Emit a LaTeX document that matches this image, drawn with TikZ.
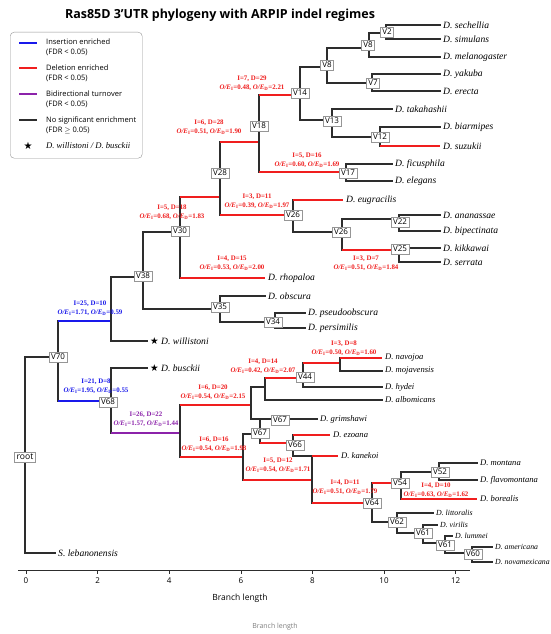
\documentclass[tikz,border=0pt]{standalone}
\usepackage{fontspec}
\setmainfont{Liberation Serif}
\setsansfont{Open Sans}
\newfontfamily\starfont{DejaVu Sans}
\usetikzlibrary{positioning}
\definecolor{insblue}{RGB}{25,25,235}
\definecolor{delred}{RGB}{240,30,30}
\definecolor{bipurple}{RGB}{140,35,170}
\definecolor{branchgray}{RGB}{45,45,45}
\definecolor{boxgray}{RGB}{150,150,150}
\tikzset{
  br/.style={line width=1.2pt,branchgray,line cap=rect},
  ins/.style={line width=1.5pt,insblue},
  del/.style={line width=1.5pt,delred},
  bid/.style={line width=1.5pt,bipurple},
  sp/.style={anchor=west,inner xsep=3pt,inner ysep=0pt,
             font=\itshape\fontsize{9.6}{10}\selectfont},
  spsmall/.style={sp,font=\itshape\fontsize{8.6}{9}\selectfont},
  sptiny/.style={sp,font=\itshape\fontsize{7.8}{8}\selectfont},
  vbox/.style={rectangle,draw=boxgray,fill=white,inner sep=2pt,
               font=\sffamily\fontsize{8}{9}\selectfont},
  ann/.style={align=center,inner sep=0pt,text=#1,
              font=\bfseries\fontsize{6.9}{9}\selectfont},
  leg/.style={anchor=west,align=left,inner sep=0pt,
              font=\sffamily\fontsize{7.5}{10}\selectfont},
  tick/.style={font=\sffamily\fontsize{8}{9}\selectfont,inner sep=0pt},
}
\newcommand{\ratI}[1]{\textit{O/E}\textsubscript{I}=#1}
\newcommand{\ratD}[1]{\textit{O/E}\textsubscript{D}=#1}

\begin{document}
\begin{tikzpicture}[x=1pt,y=-1pt]
\useasboundingbox (0,0) rectangle (550,634);
\fill[white] (0,0) rectangle (550,634);

\node[font=\sffamily\bfseries\fontsize{12.5}{14}\selectfont] (title) at (220,15)
  {Ras85D 3'UTR phylogeny with ARPIP indel regimes};

% internal nodes
\coordinate (rt) at (25,457);
\coordinate (v70) at (58,357);
\coordinate (n1) at (111,321);
\coordinate (v68) at (111,401);
\coordinate (v38) at (143,277);
\coordinate (v30) at (180,232);
\coordinate (v35) at (220,309);
\coordinate (v28) at (220,197);
\coordinate (v18) at (259,142);
\coordinate (v26a) at (293,215);
\coordinate (v14) at (300,95);
\coordinate (v17) at (346,172);
\coordinate (v8b) at (327,67);
\coordinate (v13) at (332,120);
\coordinate (v8a) at (369,48);
\coordinate (v7) at (372,83);
\coordinate (v2) at (386,33);
\coordinate (v12) at (380,137);
\coordinate (v26b) at (342,232);
\coordinate (v22) at (399,219);
\coordinate (v25) at (399,250);
\coordinate (v34) at (275,322);
\coordinate (n2) at (180,433);
\coordinate (n3) at (251,405);
\coordinate (n4) at (243,457);
\coordinate (n5) at (265,387);
\coordinate (v44) at (303,378);
\coordinate (n6) at (340,363);
\coordinate (v67) at (260,434);
\coordinate (v66) at (293,443);
\coordinate (n7) at (312,480);
\coordinate (v64) at (372,503);
\coordinate (v54) at (401,483);
\coordinate (v52) at (439,472);
\coordinate (v62) at (397,522);
\coordinate (v61a) at (423,533);
\coordinate (v61b) at (445,543);
\coordinate (v60) at (472,553);

% species
\node[sp] (sech) at (440,25) {D. sechellia};
\node[sp] (simu) at (440,39) {D. simulans};
\node[sp] (mela) at (440,57) {D. melanogaster};
\node[sp] (yaku) at (440,74) {D. yakuba};
\node[sp] (erec) at (440,91) {D. erecta};
\node[sp] (taka) at (392,109) {D. takahashii};
\node[sp] (biar) at (440,127) {D. biarmipes};
\node[sp] (suzu) at (440,146) {D. suzukii};
\node[sp] (ficu) at (392,164) {D. ficusphila};
\node[sp] (eleg) at (392,181) {D. elegans};
\node[sp] (eugr) at (343,200) {D. eugracilis};
\node[sp] (anan) at (440,215) {D. ananassae};
\node[sp] (bipe) at (440,231) {D. bipectinata};
\node[sp] (kikk) at (440,248) {D. kikkawai};
\node[sp] (serr) at (440,262) {D. serrata};
\node[sp] (rhop) at (265,278) {D. rhopaloa};
\node[sp] (obsc) at (265,296) {D. obscura};
\node[sp] (pseu) at (305,313) {D. pseudoobscura};
\node[sp] (pers) at (305,328) {D. persimilis};
\node[sp] (will) at (147,341) {{\starfont\upshape ★}~D. willistoni};
\node[sp] (busc) at (147,368) {{\starfont\upshape ★}~D. busckii};
\node[spsmall] (navo) at (382,358) {D. navojoa};
\node[spsmall] (moja) at (382,371) {D. mojavensis};
\node[spsmall] (hyde) at (382,387) {D. hydei};
\node[spsmall] (albo) at (382,400) {D. albomicans};
\node[spsmall] (grim) at (317,419) {D. grimshawi};
\node[spsmall] (ezoa) at (330,435) {D. ezoana};
\node[spsmall] (kane) at (338,456) {D. kanekoi};
\node[spsmall] (mont) at (477,463) {D. montana};
\node[spsmall] (flav) at (477,480) {D. flavomontana};
\node[spsmall] (bore) at (477,499) {D. borealis};
\node[sptiny] (litt) at (433,513) {D. littoralis};
\node[sptiny] (viri) at (437,525) {D. virilis};
\node[sptiny] (lumm) at (452,536) {D. lummei};
\node[sptiny] (amer) at (492,547) {D. americana};
\node[sptiny] (nova) at (492,562) {D. novamexicana};
\node[sp] (leba) at (55,553) {S. lebanonensis};

% branches
\draw[br] (rt |- v70) -- (rt |- leba);
\draw[br] (rt |- v70) -- (v70);
\draw[br] (rt |- leba) -- (leba);
\draw[br] (v70 |- n1) -- (v70 |- v68);
\draw[ins] (v70 |- n1) -- (n1);
\draw[ins] (v70 |- v68) -- (v68);
\draw[br] (n1 |- v38) -- (n1 |- will);
\draw[br] (n1 |- v38) -- (v38);
\draw[br] (n1 |- will) -- (will);
\draw[br] (v38 |- v30) -- (v38 |- v35);
\draw[br] (v38 |- v30) -- (v30);
\draw[br] (v38 |- v35) -- (v35);
\draw[br] (v30 |- v28) -- (v30 |- rhop);
\draw[del] (v30 |- v28) -- (v28);
\draw[del] (v30 |- rhop) -- (rhop);
\draw[br] (v28 |- v18) -- (v28 |- v26a);
\draw[del] (v28 |- v18) -- (v18);
\draw[del] (v28 |- v26a) -- (v26a);
\draw[br] (v18 |- v14) -- (v18 |- v17);
\draw[del] (v18 |- v14) -- (v14);
\draw[del] (v18 |- v17) -- (v17);
\draw[br] (v14 |- v8b) -- (v14 |- v13);
\draw[br] (v14 |- v8b) -- (v8b);
\draw[br] (v14 |- v13) -- (v13);
\draw[br] (v8b |- v8a) -- (v8b |- v7);
\draw[br] (v8b |- v8a) -- (v8a);
\draw[br] (v8b |- v7) -- (v7);
\draw[br] (v8a |- v2) -- (v8a |- mela);
\draw[br] (v8a |- v2) -- (v2);
\draw[br] (v8a |- mela) -- (mela);
\draw[br] (v2 |- sech) -- (v2 |- simu);
\draw[br] (v2 |- sech) -- (sech);
\draw[br] (v2 |- simu) -- (simu);
\draw[br] (v7 |- yaku) -- (v7 |- erec);
\draw[br] (v7 |- yaku) -- (yaku);
\draw[br] (v7 |- erec) -- (erec);
\draw[br] (v13 |- taka) -- (v13 |- v12);
\draw[br] (v13 |- taka) -- (taka);
\draw[br] (v13 |- v12) -- (v12);
\draw[br] (v12 |- biar) -- (v12 |- suzu);
\draw[br] (v12 |- biar) -- (biar);
\draw[del] (v12 |- suzu) -- (suzu);
\draw[br] (v17 |- ficu) -- (v17 |- eleg);
\draw[br] (v17 |- ficu) -- (ficu);
\draw[br] (v17 |- eleg) -- (eleg);
\draw[br] (v26a |- eugr) -- (v26a |- v26b);
\draw[del] (v26a |- eugr) -- (eugr);
\draw[br] (v26a |- v26b) -- (v26b);
\draw[br] (v26b |- v22) -- (v26b |- v25);
\draw[br] (v26b |- v22) -- (v22);
\draw[del] (v26b |- v25) -- (v25);
\draw[br] (v22 |- anan) -- (v22 |- bipe);
\draw[br] (v22 |- anan) -- (anan);
\draw[br] (v22 |- bipe) -- (bipe);
\draw[br] (v25 |- kikk) -- (v25 |- serr);
\draw[br] (v25 |- kikk) -- (kikk);
\draw[br] (v25 |- serr) -- (serr);
\draw[br] (v35 |- obsc) -- (v35 |- v34);
\draw[br] (v35 |- obsc) -- (obsc);
\draw[br] (v35 |- v34) -- (v34);
\draw[br] (v34 |- pseu) -- (v34 |- pers);
\draw[br] (v34 |- pseu) -- (pseu);
\draw[br] (v34 |- pers) -- (pers);
\draw[br] (v68 |- busc) -- (v68 |- n2);
\draw[br] (v68 |- busc) -- (busc);
\draw[bid] (v68 |- n2) -- (n2);
\draw[br] (n2 |- n3) -- (n2 |- n4);
\draw[del] (n2 |- n3) -- (n3);
\draw[del] (n2 |- n4) -- (n4);
\draw[br] (n3 |- n5) -- (n3 |- grim);
\draw[br] (n3 |- n5) -- (n5);
\draw[br] (n3 |- grim) -- (grim);
\draw[br] (n5 |- v44) -- (n5 |- albo);
\draw[del] (n5 |- v44) -- (v44);
\draw[br] (n5 |- albo) -- (albo);
\draw[br] (v44 |- n6) -- (v44 |- hyde);
\draw[del] (v44 |- n6) -- (n6);
\draw[br] (v44 |- hyde) -- (hyde);
\draw[br] (n6 |- navo) -- (n6 |- moja);
\draw[del] (n6 |- navo) -- (navo);
\draw[br] (n6 |- moja) -- (moja);
\draw[br] (n4 |- v67) -- (n4 |- n7);
\draw[br] (n4 |- v67) -- (v67);
\draw[del] (n4 |- n7) -- (n7);
\draw[br] (v67 |- grim) -- (v67 |- v66);
\draw[del] (v67 |- v66) -- (v66);
\draw[br] (v66 |- ezoa) -- (v66 |- kane);
\draw[del] (v66 |- ezoa) -- (ezoa);
\draw[br] (v66 |- kane) -- (n7 |- kane);
\draw[br] (n7 |- kane) -- (n7 |- v64);
\draw[del] (n7 |- kane) -- (kane);
\draw[del] (n7 |- v64) -- (v64);
\draw[br] (v64 |- v54) -- (v64 |- v62);
\draw[del] (v64 |- v54) -- (v54);
\draw[br] (v64 |- v62) -- (v62);
\draw[br] (v54 |- v52) -- (v54 |- bore);
\draw[br] (v54 |- v52) -- (v52);
\draw[del] (v54 |- bore) -- (bore);
\draw[br] (v52 |- mont) -- (v52 |- flav);
\draw[br] (v52 |- mont) -- (mont);
\draw[br] (v52 |- flav) -- (flav);
\draw[br] (v62 |- litt) -- (v62 |- v61a);
\draw[br] (v62 |- litt) -- (litt);
\draw[br] (v62 |- v61a) -- (v61a);
\draw[br] (v61a |- viri) -- (v61a |- v61b);
\draw[br] (v61a |- viri) -- (viri);
\draw[br] (v61a |- v61b) -- (v61b);
\draw[br] (v61b |- lumm) -- (v61b |- v60);
\draw[br] (v61b |- lumm) -- (lumm);
\draw[br] (v61b |- v60) -- (v60);
\draw[br] (v60 |- amer) -- (v60 |- nova);
\draw[br] (v60 |- amer) -- (amer);
\draw[br] (v60 |- nova) -- (nova);

% node labels
\node[vbox,font=\sffamily\fontsize{8.6}{9}\selectfont] (bRoot) at (25,457) {root};
\node[vbox] (bV70) at (58,357) {V70};
\node[vbox] (bV68) at (108,402) {V68};
\node[vbox] (bV38) at (143,276) {V38};
\node[vbox] (bV30) at (180,231) {V30};
\node[vbox] (bV35) at (220,307) {V35};
\node[vbox] (bV34) at (273,322) {V34};
\node[vbox] (bV28) at (220,173) {V28};
\node[vbox] (bV18) at (259,126) {V18};
\node[vbox] (bV14) at (300,93) {V14};
\node[vbox] (bV8b) at (327,65) {V8};
\node[vbox] (bV8a) at (368,45) {V8};
\node[vbox] (bV2) at (387,32) {V2};
\node[vbox] (bV7) at (373,83) {V7};
\node[vbox] (bV13) at (332,121) {V13};
\node[vbox] (bV12) at (380,137) {V12};
\node[vbox] (bV17) at (348,173) {V17};
\node[vbox] (bV26a) at (293,215) {V26};
\node[vbox] (bV26b) at (341,232) {V26};
\node[vbox] (bV22) at (400,222) {V22};
\node[vbox] (bV25) at (400,249) {V25};
\node[vbox] (bV44) at (305,377) {V44};
\node[vbox] (bV67u) at (280,420) {V67};
\node[vbox] (bV67l) at (260,433) {V67};
\node[vbox] (bV66) at (295,445) {V66};
\node[vbox] (bV64) at (372,503) {V64};
\node[vbox] (bV54) at (400,483) {V54};
\node[vbox] (bV52) at (440,472) {V52};
\node[vbox] (bV62) at (397,522) {V62};
\node[vbox] (bV61a) at (423,533) {V61};
\node[vbox] (bV61b) at (445,545) {V61};
\node[vbox] (bV60) at (473,554) {V60};

% regime annotations
\node[ann=delred] (aV14) at (252,83) {I=7, D=29\\\ratI{0.48}, \ratD{2.21}};
\node[ann=delred] (aV18) at (209,127) {I=6, D=28\\\ratI{0.51}, \ratD{1.90}};
\node[ann=delred] (aV17) at (307,160) {I=5, D=16\\\ratI{0.60}, \ratD{1.69}};
\node[ann=delred] (aV28) at (172,212) {I=5, D=18\\\ratI{0.68}, \ratD{1.83}};
\node[ann=delred] (aV26) at (257,201) {I=3, D=11\\\ratI{0.39}, \ratD{1.97}};
\node[ann=delred] (aV25) at (366,263) {I=3, D=7\\\ratI{0.51}, \ratD{1.84}};
\node[ann=delred] (aRho) at (232,263) {I=4, D=15\\\ratI{0.53}, \ratD{2.00}};
\node[ann=insblue] (aN1) at (90,308) {I=25, D=10\\\ratI{1.71}, \ratD{0.59}};
\node[ann=insblue] (aV68) at (96,386) {I=21, D=8\\\ratI{1.95}, \ratD{0.55}};
\node[ann=bipurple] (aN2) at (146,419) {I=26, D=22\\\ratI{1.57}, \ratD{1.44}};
\node[ann=delred] (aN3) at (213,392) {I=6, D=20\\\ratI{0.54}, \ratD{2.15}};
\node[ann=delred] (aN4) at (214,444) {I=6, D=16\\\ratI{0.54}, \ratD{1.98}};
\node[ann=delred] (aV44) at (263,366) {I=4, D=14\\\ratI{0.42}, \ratD{2.07}};
\node[ann=delred] (aN6) at (344,348) {I=3, D=8\\\ratI{0.50}, \ratD{1.60}};
\node[ann=delred] (aN7) at (278,465) {I=5, D=12\\\ratI{0.54}, \ratD{1.71}};
\node[ann=delred] (aV64) at (345,487) {I=4, D=11\\\ratI{0.51}, \ratD{1.79}};
\node[ann=delred] (aBor) at (436,490) {I=4, D=10\\\ratI{0.63}, \ratD{1.62}};

% legend
\node[draw=boxgray,rounded corners=4pt,fill=white,minimum width=132pt,
      minimum height=126pt,anchor=north west] (legend) at (10,32) {};
\draw[ins] (19,43) -- (37,43);
\node[leg] (legIns) at (46,47.5) {Insertion enriched\\(FDR < 0.05)};
\draw[del] (19,68) -- (37,68);
\node[leg] (legDel) at (46,73.5) {Deletion enriched\\(FDR < 0.05)};
\draw[bid] (19,94) -- (37,94);
\node[leg] (legBid) at (46,99) {Bidirectional turnover\\(FDR < 0.05)};
\draw[br,line cap=butt] (19,120) -- (37,120);
\node[leg] (legNon) at (46,125) {No significant enrichment\\(FDR $\geq$ 0.05)};
\node[font=\starfont\fontsize{10}{10}\selectfont,inner sep=0pt] (legStar) at (28,146) {★};
\node[leg,font=\itshape\fontsize{8.6}{9}\selectfont] (legSp) at (46,146) {D. willistoni / D. busckii};

% axis
\draw[line width=0.8pt,branchgray] (18,570) -- (470,570);
\draw[branchgray] (26,570) -- (26,574);
\draw[branchgray] (97.6,570) -- (97.6,574);
\draw[branchgray] (169.2,570) -- (169.2,574);
\draw[branchgray] (240.8,570) -- (240.8,574);
\draw[branchgray] (312.4,570) -- (312.4,574);
\draw[branchgray] (384,570) -- (384,574);
\draw[branchgray] (455.6,570) -- (455.6,574);
\node[tick] (t0) at (26,581) {0};
\node[tick] (t2) at (97.6,581) {2};
\node[tick] (t4) at (169.2,581) {4};
\node[tick] (t6) at (240.8,581) {6};
\node[tick] (t8) at (312.4,581) {8};
\node[tick] (t10) at (384,581) {10};
\node[tick] (t12) at (455.6,581) {12};
\node[font=\sffamily\fontsize{8.5}{9}\selectfont] (xlab) at (240,598) {Branch length};
\node[font=\sffamily\fontsize{7}{8}\selectfont,text=gray] (xlab2) at (275,627) {Branch length};
\end{tikzpicture}
\end{document}
